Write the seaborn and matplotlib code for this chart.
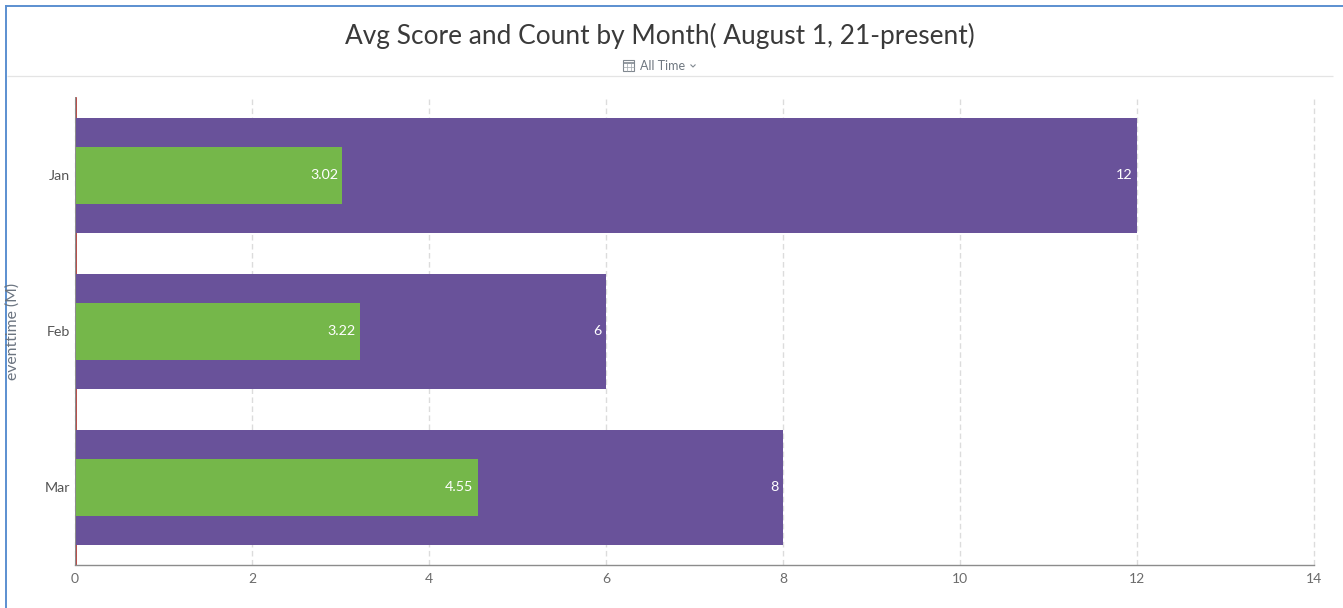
import matplotlib
matplotlib.use("Agg")
import matplotlib.pyplot as plt
from matplotlib.lines import Line2D
from matplotlib.patches import Rectangle
import matplotlib.transforms as mtrans
import pandas as pd
import seaborn as sns

months = ["Jan", "Feb", "Mar"]
counts = [12, 6, 8]
scores = [3.02, 3.22, 4.55]
count_labels = ["12", "6", "8"]
score_labels = ["3.02", "3.22", "4.55"]
x_ticks = [0, 2, 4, 6, 8, 10, 12, 14]

W, H = 1343, 608
sns.set_theme(style="white")
plt.rcParams["font.family"] = ["Lato", "DejaVu Sans"]

df = pd.DataFrame({"month": months, "count": counts, "score": scores})

fig = plt.figure(figsize=(W / 100, H / 100), dpi=100, facecolor="white")
ax = fig.add_axes([74.9 / W, 1 - 565.4 / H, 1239.2 / W, 468.0 / H])

sns.barplot(data=df, y="month", x="count", order=months, color="#69529a",
            saturation=1, width=0.74, ax=ax, zorder=3, linewidth=0, edgecolor="none")
sns.barplot(data=df, y="month", x="score", order=months, color="#75b74a",
            saturation=1, width=0.37, ax=ax, zorder=4, linewidth=0, edgecolor="none")

ax.set_xlim(0, 14)
ax.set_ylim(2.5, -0.5)
ax.set_xticks(x_ticks)
ax.set_xticklabels([str(v) for v in x_ticks])
ax.set_xlabel("")
ax.set_ylabel("")
ax.tick_params(axis="x", length=0, pad=5.5, labelsize=10, labelcolor="#6b6b6b")
ax.tick_params(axis="y", length=0, pad=3.5, labelsize=10.3, labelcolor="#555555")

ax.grid(axis="x", color="#dcdcdc", linestyle=(0, (4, 2.5)), linewidth=1)
for gl in ax.get_xgridlines():
    gl.set_clip_on(False)
    gl.set_zorder(1)
ax.set_axisbelow(True)
for s in ("top", "right"):
    ax.spines[s].set_visible(False)
ax.spines["left"].set_color("#8c8c8c")
ax.spines["left"].set_linewidth(0.72)
ax.spines["left"].set_zorder(6)
ax.spines["bottom"].set_color("#8c8c8c")
ax.spines["bottom"].set_linewidth(1)

# reddish line next to the axis
ax.add_line(Line2D([0, 0], [0, 1], color="#b8504c", lw=0.72,
                   transform=ax.get_xaxis_transform() + mtrans.ScaledTranslation(1.0 / 100, 0, fig.dpi_scale_trans),
                   zorder=2, clip_on=False))

for i, (c, s) in enumerate(zip(counts, scores)):
    ax.annotate(count_labels[i], (c, i), xytext=(-3, 0), textcoords="offset points",
                ha="right", va="center", color="white", fontsize=10.3, zorder=7)
    ax.annotate(score_labels[i], (s, i), xytext=(-3, 0), textcoords="offset points",
                ha="right", va="center", color="white", fontsize=10.3, zorder=7)

# page chrome, in pixel coordinates
def px(x, y):
    return x / W, 1 - y / H

fig.text(*px(659.5, 36), "Avg Score and Count by Month( August 1, 21-present)",
         ha="center", va="center", fontsize=18.9, color="#3a3a3a")
fig.text(*px(640, 66), "All Time", ha="left", va="center", fontsize=9, color="#6f7780")
fig.text(*px(12.5, 331), "eventtime (M)", rotation=90, ha="center", va="center",
         fontsize=11.3, color="#6b7480")

def fline(xs, ys, color, lw):
    pts = [px(x, y) for x, y in zip(xs, ys)]
    fig.add_artist(Line2D([p[0] for p in pts], [p[1] for p in pts], color=color, lw=lw,
                          transform=fig.transFigure, solid_capstyle="butt"))

fline([7, 1333], [76, 76], "#e4e4e4", 0.9)
fline([5.5, 5.5], [5, 608], "#5b8fd0", 1.4)
fline([4.5, 1343], [5.5, 5.5], "#5b8fd0", 1.4)

# calendar icon
x0, y0 = px(623, 71)
fig.add_artist(Rectangle((x0, y0), 11 / W, 11 / H, transform=fig.transFigure, fill=False,
                         edgecolor="#808890", lw=0.8))
fline([623, 634], [63, 63], "#808890", 1.2)
fline([623, 634], [67, 67], "#a0a6ac", 0.5)
fline([626.5, 626.5], [63, 71], "#a0a6ac", 0.5)
fline([630.5, 630.5], [63, 71], "#a0a6ac", 0.5)
# chevron
fline([690.5, 693, 695.5], [64.5, 67, 64.5], "#808890", 0.8)

fig.savefig("out.png", dpi=100, facecolor="white")
